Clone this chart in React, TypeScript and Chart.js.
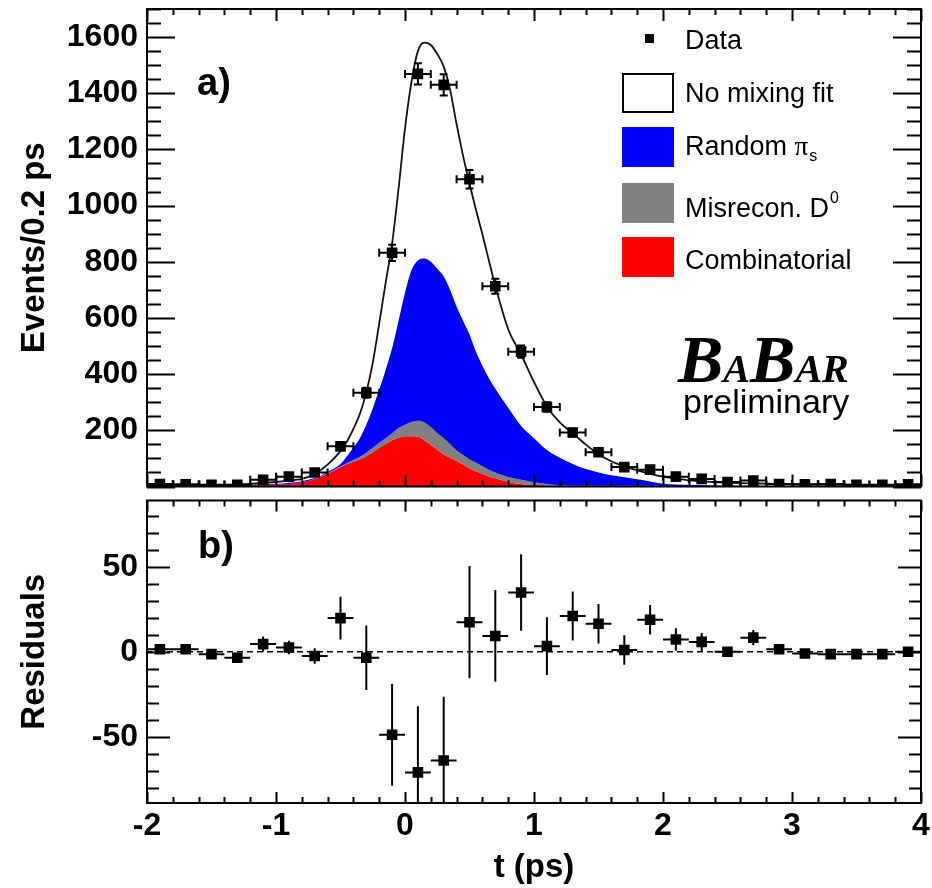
import React, { useEffect, useRef } from 'react';
import { Chart, registerables } from 'chart.js';
Chart.register(...registerables);

// ---------- data ----------
const binCenters = [-1.9, -1.7, -1.5, -1.3, -1.1, -0.9, -0.7, -0.5, -0.3, -0.1, 0.1, 0.3, 0.5, 0.7, 0.9, 1.1, 1.3, 1.5, 1.7, 1.9, 2.1, 2.3, 2.5, 2.7, 2.9, 3.1, 3.3, 3.5, 3.7, 3.9];
const binHalfWidth = 0.1;
const dataEvents = [9, 8, 6, 6, 24, 35, 50, 143, 334, 832, 1469, 1430, 1094, 713, 480, 283, 192, 122, 69, 60, 35, 27, 16, 21, 9, 8, 9, 6, 6, 8];
const dataErr = [3, 3, 2.5, 2.5, 5, 6, 7, 12, 18, 29, 38, 38, 33, 27, 22, 17, 14, 11, 8, 8, 6, 5, 4, 5, 3, 3, 3, 2.5, 2.5, 3];
const residuals = [1.5, 1.5, -1.4, -3.5, 4.5, 2.5, -2.5, 19.8, -3.5, -48.8, -71, -64, 17.4, 9.3, 34.9, 3.3, 21, 16.5, 1, 18.8, 7.2, 5.8, 0, 8.3, 1.5, -1, -1.4, -1.4, -1.4, 0];
const residualErr = [1, 1, 1, 1.5, 4.5, 4, 4.5, 12.6, 19, 30, 39, 37.5, 33, 27, 22.5, 17, 14.4, 11.6, 8.7, 8.7, 6.6, 5.3, 1, 4.5, 1, 0.5, 0.5, 0.5, 0.5, 0.5];

// background components on a common t grid
const tGrid = [-2.0, -1.8, -1.6, -1.4, -1.2, -1.0, -0.9, -0.8, -0.7, -0.6, -0.5, -0.45, -0.4, -0.35, -0.3, -0.25, -0.2, -0.15, -0.1, -0.05, 0, 0.05, 0.1, 0.15, 0.2, 0.25, 0.3, 0.35, 0.4, 0.45, 0.5, 0.55, 0.6, 0.65, 0.7, 0.8, 0.9, 1.0, 1.1, 1.2, 1.3, 1.4, 1.5, 1.6, 1.7, 1.8, 1.9, 2.0, 2.2, 2.4, 2.6, 2.8, 3.0, 3.5, 4.0];
const combinatorial = [0, 0, 0.5, 1, 3, 6, 9, 15, 26, 45, 69, 80, 88, 97, 108, 122, 138, 152, 165, 174, 179, 179, 177, 165, 148, 132, 115, 102, 91, 78, 64, 54, 45, 36, 29, 16, 9, 5, 4, 3, 3, 3, 2, 2, 2, 2, 2, 1, 1, 0.5, 0, 0, 0, 0, 0];
const misrecon = [0, 0, 0, 0, 0, 0, 0, 0, 1, 2, 3, 4, 6, 9, 12, 16, 18, 20, 25, 34, 41, 51, 57, 63, 64, 58, 57, 48, 37, 34, 32, 31, 27, 24, 21, 18, 15, 10, 5, 2, 1, 1, 1, 0.5, 0.5, 0.5, 0.5, 0.5, 0, 0, 0, 0, 0, 0, 0];
const randomPi = [2, 2, 2.5, 3, 3, 3, 4, 4, 3, 5, 8, 24, 45, 66, 100, 140, 189, 243, 302, 382, 470, 540, 571, 584, 588, 585, 576, 550, 512, 478, 444, 395, 358, 325, 298, 246, 191, 157, 121, 97, 76, 58, 47, 37.5, 30.5, 23.5, 15.5, 8.5, 5, 3.5, 3, 2, 1, 1, 0];

// no-mixing fit curve
const fitT = [-2.0, -1.8, -1.6, -1.4, -1.2, -1.0, -0.9, -0.8, -0.7, -0.6, -0.5, -0.45, -0.4, -0.35, -0.3, -0.25, -0.2, -0.15, -0.1, -0.05, 0, 0.05, 0.1, 0.15, 0.2, 0.25, 0.3, 0.35, 0.4, 0.45, 0.5, 0.55, 0.6, 0.65, 0.7, 0.8, 0.9, 1.0, 1.1, 1.2, 1.3, 1.4, 1.5, 1.6, 1.7, 1.8, 1.9, 2.0, 2.1, 2.2, 2.4, 2.6, 2.8, 3.0, 3.5, 4.0];
const fitY = [3, 3, 4, 5, 9, 16, 21, 27, 45, 78, 126, 160, 205, 258, 335, 440, 580, 725, 865, 1060, 1275, 1440, 1550, 1580, 1572, 1540, 1495, 1412, 1290, 1178, 1078, 985, 898, 805, 715, 560, 470, 372, 285, 228, 190, 150, 115, 90, 72, 58, 45, 35, 28, 22, 16, 12, 10, 8, 6, 5];

const zeroLineX = [-2, 4];
const zeroLineY = [0, 0];

// axes
const xMin = -2, xMax = 4;
const xTicks = [-2, -1, 0, 1, 2, 3, 4];
const topYMin = 0, topYMax = 1700;
const topYTicks = [200, 400, 600, 800, 1000, 1200, 1400, 1600];
const botYMin = -89, botYMax = 89;
const botYTicks = [-50, 0, 50];

const SANS = '"Liberation Sans", Arial, Helvetica, sans-serif';
const SERIF = '"Liberation Serif", "Times New Roman", serif';

const pts = (xs: number[], ys: number[]) => xs.map((x, i) => ({ x, y: ys[i] }));

function framePlugin(o: { yStep: number; yMinorStep: number; yMajLen: number; yMinLen: number; xMajLen: number; xMinLen: number }) {
  return {
    id: 'frameTicks',
    afterDraw(chart: any) {
      const { ctx, chartArea: a, scales } = chart;
      const xs = scales.x, ys = scales.y;
      ctx.save();
      ctx.strokeStyle = '#000';
      ctx.lineWidth = 2;
      ctx.beginPath();
      const nx = Math.round((xMax - xMin) / 0.2);
      for (let k = 0; k <= nx; k++) {
        const v = xMin + k * 0.2;
        const px = Math.round(xs.getPixelForValue(v)) + 0.5;
        const L = k % 5 === 0 ? o.xMajLen : o.xMinLen;
        ctx.moveTo(px, a.bottom); ctx.lineTo(px, a.bottom - L);
        ctx.moveTo(px, a.top); ctx.lineTo(px, a.top + L);
      }
      const start = Math.ceil(ys.min / o.yMinorStep);
      const end = Math.floor(ys.max / o.yMinorStep);
      const ratio = Math.round(o.yStep / o.yMinorStep);
      for (let k = start; k <= end; k++) {
        const v = k * o.yMinorStep;
        const py = Math.round(ys.getPixelForValue(v)) + 0.5;
        const L = k % ratio === 0 ? o.yMajLen : o.yMinLen;
        ctx.moveTo(a.left, py); ctx.lineTo(a.left + L, py);
        ctx.moveTo(a.right, py); ctx.lineTo(a.right - L, py);
      }
      ctx.stroke();
      ctx.strokeRect(a.left, a.top, a.right - a.left, a.bottom - a.top);
      ctx.restore();
    },
  };
}

function errorBarPlugin(xv: number[], yv: number[], ev: number[], caps: boolean) {
  return {
    id: 'errorBars',
    afterDatasetsDraw(chart: any) {
      const { ctx, chartArea: a, scales } = chart;
      const xs = scales.x, ys = scales.y;
      ctx.save();
      ctx.beginPath();
      ctx.rect(a.left, a.top, a.right - a.left, a.bottom - a.top);
      ctx.clip();
      ctx.strokeStyle = '#000';
      ctx.lineWidth = 2;
      ctx.beginPath();
      for (let i = 0; i < xv.length; i++) {
        const cx = xs.getPixelForValue(xv[i]);
        const cy = ys.getPixelForValue(yv[i]);
        const x1 = xs.getPixelForValue(xv[i] - binHalfWidth);
        const x2 = xs.getPixelForValue(xv[i] + binHalfWidth);
        const y1 = ys.getPixelForValue(yv[i] + ev[i]);
        const y2 = ys.getPixelForValue(yv[i] - ev[i]);
        ctx.moveTo(x1, cy); ctx.lineTo(x2, cy);
        ctx.moveTo(cx, y1); ctx.lineTo(cx, y2);
        if (caps) {
          ctx.moveTo(x1, cy - 4); ctx.lineTo(x1, cy + 4);
          ctx.moveTo(x2, cy - 4); ctx.lineTo(x2, cy + 4);
          ctx.moveTo(cx - 4, y1); ctx.lineTo(cx + 4, y1);
          ctx.moveTo(cx - 4, y2); ctx.lineTo(cx + 4, y2);
        }
      }
      ctx.stroke();
      ctx.restore();
    },
  };
}

const topDecorPlugin = {
  id: 'topDecor',
  afterDraw(chart: any) {
    const ctx = chart.ctx;
    ctx.save();
    ctx.fillStyle = '#000';
    ctx.textBaseline = 'alphabetic';
    ctx.textAlign = 'left';
    ctx.font = `bold 38px ${SANS}`;
    ctx.fillText('a)', 197, 95);
    // legend
    ctx.fillRect(645, 34, 9, 9);
    ctx.lineWidth = 2;
    ctx.strokeStyle = '#000';
    ctx.fillStyle = '#fff';
    ctx.fillRect(623, 74, 50, 38);
    ctx.strokeRect(623, 74, 50, 38);
    ctx.fillStyle = '#0000ff';
    ctx.fillRect(622, 127, 52, 40);
    ctx.fillStyle = '#808080';
    ctx.fillRect(622, 183, 52, 40);
    ctx.fillStyle = '#ff0000';
    ctx.fillRect(622, 237, 52, 40);
    ctx.fillStyle = '#000';
    ctx.font = `27px ${SANS}`;
    ctx.fillText('Data', 685, 49);
    ctx.fillText('No mixing fit', 685, 101.5);
    ctx.fillText('Random', 685, 155);
    let w = ctx.measureText('Random ').width;
    ctx.font = `27px ${SERIF}`;
    ctx.fillText('\u03c0', 685 + w, 155);
    const wp = ctx.measureText('\u03c0').width;
    ctx.font = `16px ${SANS}`;
    ctx.fillText('s', 685 + w + wp + 1, 161);
    ctx.font = `27px ${SANS}`;
    ctx.fillText('Misrecon. D', 685, 216.5);
    w = ctx.measureText('Misrecon. D').width;
    ctx.font = `16px ${SANS}`;
    ctx.fillText('0', 685 + w + 1, 203);
    ctx.font = `27px ${SANS}`;
    ctx.fillText('Combinatorial', 685, 269);
    // BaBar logo
    const parts: [string, number][] = [['B', 68], ['A', 40], ['B', 68], ['A', 40], ['R', 40]];
    let x = 678;
    for (const [s, sz] of parts) {
      ctx.font = `italic bold ${sz}px ${SERIF}`;
      ctx.fillText(s, x, 382);
      x += ctx.measureText(s).width;
    }
    ctx.font = `34px ${SANS}`;
    ctx.fillText('preliminary', 683, 413);
    ctx.restore();
  },
};

const botDecorPlugin = {
  id: 'botDecor',
  afterDraw(chart: any) {
    const ctx = chart.ctx;
    ctx.save();
    ctx.fillStyle = '#000';
    ctx.textBaseline = 'alphabetic';
    ctx.textAlign = 'left';
    ctx.font = `bold 38px ${SANS}`;
    ctx.fillText('b)', 198, 558 - 493);
    ctx.restore();
  },
};

const tickFont = { family: SANS, size: 32, weight: 'bold' as const };
const titleFont = { family: SANS, size: 33, weight: 'bold' as const };

export default function App() {
  const topRef = useRef<HTMLCanvasElement>(null);
  const botRef = useRef<HTMLCanvasElement>(null);

  useEffect(() => {
    Chart.defaults.color = '#000';
    const redTop = combinatorial.map((v) => v);
    const grayTop = combinatorial.map((v, i) => v + misrecon[i]);
    const blueTop = grayTop.map((v, i) => v + randomPi[i]);
    const clear = 'rgba(0,0,0,0)';

    const top = new Chart(topRef.current as HTMLCanvasElement, {
      type: 'line',
      data: {
        datasets: [
          { label: 'Data', data: pts(binCenters, dataEvents), showLine: false, pointStyle: 'rect', pointRadius: 7.5, pointBackgroundColor: '#000', pointBorderColor: '#000', pointBorderWidth: 0, borderColor: clear, borderWidth: 0 },
          { label: 'No mixing fit', data: pts(fitT, fitY), borderColor: '#111', borderWidth: 1.8, pointRadius: 0, fill: false, cubicInterpolationMode: 'monotone' },
          { label: 'Random pi_s', data: pts(tGrid, blueTop), borderColor: clear, borderWidth: 0, pointRadius: 0, fill: 3, backgroundColor: '#0000ff', cubicInterpolationMode: 'monotone' },
          { label: 'Misrecon. D0', data: pts(tGrid, grayTop), borderColor: clear, borderWidth: 0, pointRadius: 0, fill: 4, backgroundColor: '#808080', cubicInterpolationMode: 'monotone' },
          { label: 'Combinatorial', data: pts(tGrid, redTop), borderColor: clear, borderWidth: 0, pointRadius: 0, fill: 'origin', backgroundColor: '#ff0000', cubicInterpolationMode: 'monotone' },
        ] as any,
      },
      options: {
        responsive: false,
        animation: false,
        events: [],
        layout: { padding: { left: 0, right: 11, top: 9, bottom: 1 } },
        plugins: { legend: { display: false }, tooltip: { enabled: false } },
        scales: {
          x: { type: 'linear', min: xMin, max: xMax, display: false },
          y: {
            type: 'linear', min: topYMin, max: topYMax,
            afterBuildTicks: (s: any) => { s.ticks = topYTicks.map((v) => ({ value: v })); },
            afterFit: (s: any) => { s.width = 147; s.paddingTop = 0; s.paddingBottom = 0; },
            grid: { display: false, drawTicks: false },
            border: { display: false },
            ticks: { padding: 9, color: '#000', font: tickFont, autoSkip: false, callback: (v: any) => String(v) },
            title: { display: true, text: 'Events/0.2 ps', color: '#000', font: titleFont, padding: { top: 15, bottom: 0 } },
          },
        },
      } as any,
      plugins: [
        errorBarPlugin(binCenters, dataEvents, dataErr, true),
        framePlugin({ yStep: 200, yMinorStep: 50, yMajLen: 28, yMinLen: 14, xMajLen: 12, xMinLen: 6 }),
        topDecorPlugin,
      ],
    });

    const bot = new Chart(botRef.current as HTMLCanvasElement, {
      type: 'line',
      data: {
        datasets: [
          { label: 'Residuals', data: pts(binCenters, residuals), showLine: false, pointStyle: 'rect', pointRadius: 7.5, pointBackgroundColor: '#000', pointBorderColor: '#000', pointBorderWidth: 0, borderColor: clear, borderWidth: 0 },
          { label: 'zero', data: pts(zeroLineX, zeroLineY), borderColor: '#000', borderWidth: 1.5, borderDash: [6, 4], pointRadius: 0, fill: false },
        ] as any,
      },
      options: {
        responsive: false,
        animation: false,
        events: [],
        layout: { padding: { left: 0, right: 11, top: 0, bottom: 0 } },
        plugins: { legend: { display: false }, tooltip: { enabled: false } },
        scales: {
          x: {
            type: 'linear', min: xMin, max: xMax,
            afterBuildTicks: (s: any) => { s.ticks = xTicks.map((v) => ({ value: v })); },
            afterFit: (s: any) => { s.height = 85; s.paddingLeft = 0; s.paddingRight = 0; },
            grid: { display: false, drawTicks: false },
            border: { display: false },
            ticks: { padding: 4, color: '#000', font: tickFont, autoSkip: false, maxRotation: 0, callback: (v: any) => String(v) },
            title: { display: true, text: 't (ps)', color: '#000', font: titleFont, padding: { top: 0, bottom: 0 } },
          },
          y: {
            type: 'linear', min: botYMin, max: botYMax,
            afterBuildTicks: (s: any) => { s.ticks = botYTicks.map((v) => ({ value: v })); },
            afterFit: (s: any) => { s.width = 147; s.paddingTop = 0; s.paddingBottom = 0; },
            grid: { display: false, drawTicks: false },
            border: { display: false },
            ticks: { padding: 9, color: '#000', font: tickFont, autoSkip: false, callback: (v: any) => String(v) },
            title: { display: true, text: 'Residuals', color: '#000', font: titleFont, padding: { top: 15, bottom: 0 } },
          },
        },
      } as any,
      plugins: [
        errorBarPlugin(binCenters, residuals, residualErr, false),
        framePlugin({ yStep: 50, yMinorStep: 10, yMajLen: 23, yMinLen: 12, xMajLen: 11, xMinLen: 6 }),
        botDecorPlugin,
      ],
    });

    return () => { top.destroy(); bot.destroy(); };
  }, []);

  return (
    <div style={{ position: 'absolute', left: 0, top: 0, width: 932, height: 888, background: '#fff', overflow: 'hidden' }}>
      <canvas ref={topRef} width={932} height={494} style={{ position: 'absolute', left: 0, top: 0, width: 932, height: 494 }} />
      <canvas ref={botRef} width={932} height={395} style={{ position: 'absolute', left: 0, top: 493, width: 932, height: 395 }} />
    </div>
  );
}
